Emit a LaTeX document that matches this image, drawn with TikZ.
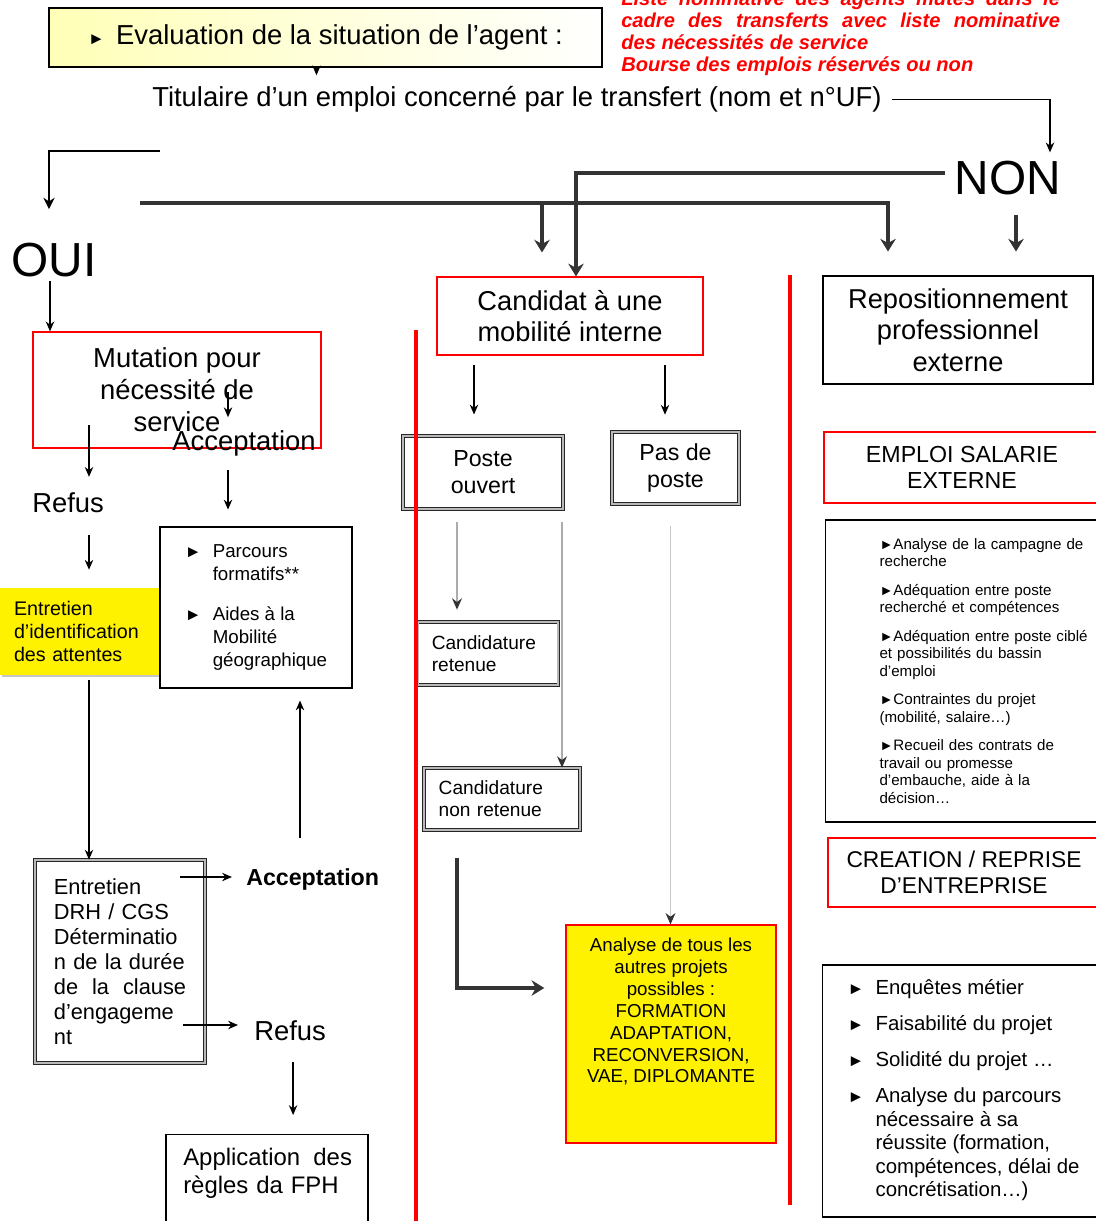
\documentclass[tikz,border=0pt]{standalone}
\usepackage{fontspec}
\setmainfont{Liberation Sans}
\usetikzlibrary{arrows.meta,shadows}
\newcommand{\tri}[1][8]{{\fontsize{#1}{#1}\selectfont ►}}
\newcommand{\fs}[2]{\fontsize{#1}{#2}\selectfont}

\begin{document}
\begin{tikzpicture}[
    x=0.025cm, y=-0.025cm,
    sz/.style 2 args={minimum width=#1*0.025cm, minimum height=#2*0.025cm},
    txt/.style={inner sep=0pt},
    redbox/.style={draw=red, line width=0.9pt, fill=white, align=center},
    blkbox/.style={draw=black, line width=0.8pt, fill=white, align=center},
    shbox/.style={draw=black!85, line width=0.6pt, double=gray!55, double distance=1.2pt, fill=white, align=center},
    arr/.style={line width=0.9pt, -{Stealth[length=7pt,width=6pt]}},
    bigarr/.style={line width=2.4pt, black!80, -{Stealth[length=9pt,width=11pt]}},
    grayarr/.style={line width=1.8pt, gray!65, -{Stealth[length=8pt,width=7pt,color=black!80]}},
    lgarr/.style={line width=0.5pt, gray!45, -{Stealth[length=8pt,width=7pt,color=black!80]}},
    redline/.style={red, line width=2.2pt}
    ]
    \path[use as bounding box] (0,0) rectangle (1096,1221);
    \clip (0,0) rectangle (1096,1221);

    \node[draw=black, line width=0.8pt, left color=yellow!28, right color=white, sz={553}{59}, font=\fs{19.5}{22}] (eval) at (325.5,37.5) {\tri[12]\hspace{8pt}Evaluation de la situation de l’agent :};
    \node[txt, anchor=north west, text width=312pt, align=justify, text=red, font=\fs{14.3}{15.65}\bfseries\itshape] (liste) at (621,-9.5) {Liste nominative des agents mutés dans le\linebreak cadre des transferts avec liste nominative\linebreak des nécessités de service\par Bourse des emplois réservés ou non};
    \node[txt, anchor=base west, font=\fs{19.5}{22}] (titul) at (152,107) {Titulaire d’un emploi concerné par le transfert (nom et n°UF)};
    \node[txt, font=\fs{34}{40}] (non) at (1008,178) {NON};
    \node[txt, font=\fs{34}{40}] (oui) at (54,260) {OUI};

    \node[redbox, sz={266}{78}, font=\fs{19.4}{22}] (cand) at (570,316) {Candidat à une\\mobilité interne};
    \node[blkbox, sz={270}{108}, font=\fs{19.4}{22.4}] (repo) at (958,330) {Repositionnement\\professionnel\\externe};
    \node[redbox, sz={288}{116}, font=\fs{19.5}{22.8}] (mut) at (177,390) {Mutation pour\\nécessité de\\service};
    \node[txt, anchor=base, font=\fs{19.5}{22}] (acc1) at (244,450) {Acceptation};
    \node[txt, anchor=base west, font=\fs{19.5}{22}] (refus1) at (32,512) {Refus};
    \node[fill=yellow, sz={163}{87}, text width=96pt, inner xsep=10pt, align=left, font=\fs{14}{16.4}, drop shadow={shadow xshift=1.5pt, shadow yshift=-1.5pt, opacity=0.45}] (att) at (81.5,631.5) {Entretien\\d’identification\\des attentes};
    \node[blkbox, sz={192}{161}, font=\fs{13.3}{16.4}] (parc) at (256,607.5) {%
      \begin{tabular}{@{}l@{\hspace{8pt}}l@{}}
      \tri[12] & Parcours\\ & formatifs**\\[12pt]
      \tri[12] & Aides à la\\ & Mobilité\\ & géographique
      \end{tabular}};
    \node[shbox, sz={170}{203}, text width=94pt, inner xsep=12.5pt, align=left, font=\fs{15.5}{17.8}] (drh) at (120,961.5) {Entretien\\DRH / CGS\\Déterminatio\\n de la durée\\de \hfill la \hfill clause\\d’engageme\\nt};
    \node[txt, anchor=base west, font=\fs{16.5}{20}\bfseries] (acc2) at (246,885) {Acceptation};
    \node[txt, anchor=base west, font=\fs{19.5}{22}] (refus2) at (254,1040) {Refus};
    \node[blkbox, sz={202}{110}, anchor=north] (appl) at (267,1134) {};
    \node[txt, anchor=north west, text width=120pt, align=left, font=\fs{17}{20}] (appltxt) at (183,1147.5) {Application \hfill des\\règles da FPH};

    \node[shbox, sz={160}{73}, font=\fs{16.5}{19.2}] (ouvert) at (483,472.5) {Poste\\ouvert};
    \node[shbox, sz={127}{72}, font=\fs{16.5}{19.2}] (pas) at (675.5,468) {Pas de\\poste};
    \node[shbox, sz={140}{63}, text width=80pt, inner xsep=10pt, align=left, font=\fs{13.6}{15.6}] (ret) at (488,653.5) {Candidature\\retenue};
    \node[shbox, sz={156}{62}, text width=90pt, inner xsep=10.5pt, align=left, font=\fs{13.6}{15.6}] (nonret) at (502,799) {Candidature\\non retenue};
    \node[draw=red, line width=0.9pt, fill=yellow, sz={210}{218}] (ana) at (671,1034) {};
    \node[txt, anchor=north, align=center, font=\fs{13.3}{15.6}] (anatxt) at (671,937.5) {Analyse de tous les\\autres projets\\possibles :\\FORMATION\\ADAPTATION,\\RECONVERSION,\\VAE, DIPLOMANTE};

    \node[redbox, sz={276}{71}, font=\fs{16.5}{18.5}] (emp) at (962,467.5) {EMPLOI SALARIE\\EXTERNE};
    \node[blkbox, anchor=west, minimum height=302*0.025cm, text width=150pt, inner xsep=38.4pt, align=left, font=\fs{10.75}{12.45}] (bul) at (825,671) {\tri[10]Analyse de la campagne de\\recherche\\[7.8pt]\tri[10]Adéquation entre poste\\recherché et compétences\\[7.8pt]\tri[10]Adéquation entre poste ciblé\\et possibilités du bassin\\d’emploi\\[7.8pt]\tri[10]Contraintes du projet\\(mobilité, salaire…)\\[7.8pt]\tri[10]Recueil des contrats de\\travail ou promesse\\d'embauche, aide à la\\décision…};
    \node[redbox, sz={272}{69}, font=\fs{16.2}{18.5}] (cre) at (964,872.5) {CREATION / REPRISE\\D’ENTREPRISE};
    \node[blkbox, anchor=west, minimum height=252*0.025cm, inner xsep=17.8pt, align=left, font=\fs{14.5}{16.7}] (enq) at (822,1091) {%
      \begin{tabular}{@{}l@{\hspace{8pt}}l@{}}
      \tri[12] & Enquêtes métier\\[9pt]
      \tri[12] & Faisabilité du projet\\[9pt]
      \tri[12] & Solidité du projet …\\[9pt]
      \tri[12] & Analyse du parcours\\ & nécessaire à sa\\ & réussite (formation,\\ & compétences, délai de\\ & concrétisation…)
      \end{tabular}};

    \coordinate (ouiin) at (160,151);
    \coordinate (bus) at (140,203);
    \coordinate (busm) at (542,203);
    \coordinate (busr) at (888,203);
    \coordinate (nonl) at (945,173);
    \coordinate (m1) at (228,392);
    \coordinate (m2) at (89,425);
    \coordinate (d1) at (180,877);
    \coordinate (d2) at (183,1025);
    \coordinate (a2) at (300,838);
    \coordinate (c1) at (474,365);
    \coordinate (c2) at (665,365);
    \coordinate (o1) at (457,522);
    \coordinate (o2) at (562,522);
    \coordinate (el) at (457,858);

    \draw[arr, shorten >=8pt] ([shift={(-9,0)}]eval.south) -- ([shift={(-9,0)}]eval.south |- titul.north);
    \draw[arr, shorten >=6pt] ([shift={(10,0)}]titul.east) -| ([shift={(42,0)}]non.north);
    \draw[line width=1.4pt, -{Stealth[length=8pt,width=8pt]}, shorten >=24pt] (ouiin) -| ([shift={(-5,0)}]oui.north);
    \draw[arr, shorten <=3pt] ([shift={(-4,0)}]oui.south) -- ([shift={(-4,0)}]oui.south |- mut.north);
    \draw[bigarr, shorten >=17pt] (bus) -- (busr) -- (busr |- repo.north);
    \draw[bigarr, shorten >=17pt] (busm) -- (busm |- cand.north);
    \draw[bigarr] (nonl) -| ([shift={(6,0)}]cand.north);
    \draw[bigarr, shorten <=14pt, shorten >=17pt] ([shift={(8,0)}]non.south) -- ([shift={(8,0)}]non.south |- repo.north);

    \draw[arr, shorten >=9pt] (m1) -- (m1 |- acc1.north);
    \draw[arr, shorten <=10pt, shorten >=12pt] (m1 |- acc1.south) -- (m1 |- parc.north);
    \draw[arr, shorten >=10.7pt] (m2) -- (m2 |- refus1.north);
    \draw[arr, shorten <=16pt, shorten >=12.8pt] (m2 |- refus1.south) -- (m2 |- att.north);
    \draw[arr, shorten <=3pt] (m2 |- att.south) -- (m2 |- drh.north);
    \draw[arr, shorten >=10pt] (d1) -- (d1 -| acc2.west);
    \draw[arr, shorten >=8.5pt] (a2) -- (a2 |- parc.south);
    \draw[arr, shorten >=11.4pt] (d2) -- (d2 -| refus2.west);
    \draw[arr, shorten <=15.6pt, shorten >=13.5pt] ([shift={(3,0)}]refus2.south) -- ([shift={(3,0)}]refus2.south |- appl.north);

    \draw[arr, shorten >=15pt] (c1) -- (c1 |- ouvert.north);
    \draw[arr, shorten >=12pt] (c2) -- (c2 |- pas.north);
    \draw[grayarr, shorten >=8.5pt] (o1) -- (o1 |- ret.north);
    \draw[grayarr] (o2) -- (o2 |- nonret.north);
    \draw[lgarr, shorten <=15pt] ([shift={(-5,0)}]pas.south) -- ([shift={(-5,0)}]pas.south |- ana.north);
    \draw[bigarr, shorten >=15pt] (el) |- ([shift={(0,-46)}]ana.west);

    \draw[redline] (416,330) -- (416,1225);
    \draw[redline] (790,275) -- (790,1205);
  \end{tikzpicture}
\end{document}
